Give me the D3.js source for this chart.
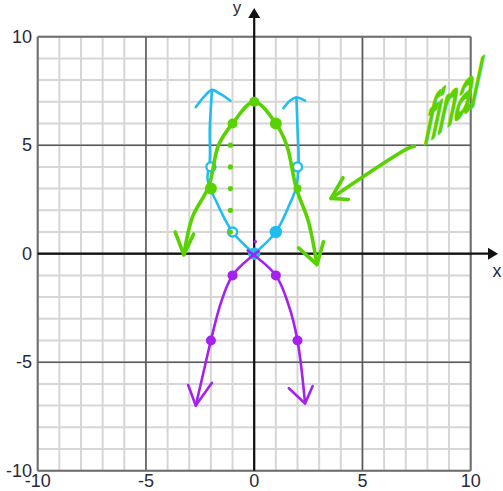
<!DOCTYPE html>
<html lang="en">
  <head>
    <meta charset="UTF-8" />
    <title>Parabola transformations</title>
    <style>
      body {
        margin: 0;
        background: #fff;
      }
      svg text {
        font-family: "Liberation Sans", Arial, sans-serif;
      }
    </style>
  </head>
  <body>
    <svg width="503" height="491" id="chart"></svg>

    <script src="https://d3js.org/d3.v7.min.js"></script>
    <script>
      // tick labels
      var ticks = [-10, -5, 0, 5, 10];
      var gridLines = d3.range(-10, 11);

      // blue: y = x^2 (hand drawn)
      var blueLeft = [[0, 0], [-1, 1], [-1.7, 2.3], [-2.15, 3.4], [-2.05, 4.3], [-2.05, 5.8], [-1.95, 7.5]];
      var blueRight = [[0, 0], [1, 1], [1.6, 2.2], [1.95, 3.1], [2.05, 4.2], [2.0, 5.8], [1.95, 7.2]];
      var blueArrowLeft = [[-2.7, 6.75], [-2.3, 7.25], [-1.95, 7.55], [-1.55, 7.35], [-1.1, 7.05]];
      var blueArrowRight = [[1.35, 6.7], [1.65, 7.05], [1.95, 7.2], [2.35, 7.05]];
      var bluePoints = [
        { x: 0, y: 0, open: false },
        { x: -1, y: 1, open: true },
        { x: -2, y: 4, open: true },
        { x: 1, y: 1, open: false },
        { x: 2, y: 4, open: true },
      ];

      // purple: y = -x^2
      var purpleLeft = [[0.2, 0.12], [-1, -1], [-1.55, -2.3], [-2, -4], [-2.35, -5.5], [-2.7, -7]];
      var purpleRight = [[-0.3, 0.15], [1, -1], [1.6, -2.4], [2, -4], [2.35, -6.9]];
      var purpleArrowLeft = [[-3.05, -6.05], [-2.7, -7], [-1.95, -5.95]];
      var purpleArrowRight = [[1.6, -6.2], [2.35, -6.9], [2.7, -6.1]];
      var purplePoints = [[-1, -1], [-2, -4], [1, -1], [2, -4]];

      // green: y = -x^2 + 7 (final)
      var greenCurve = [[-3.25, -0.05], [-2.85, 1.7], [-2.1, 3.1], [-1.65, 5], [-1, 6], [0, 7], [1, 6], [1.5, 5], [1.95, 3], [2.5, 1.5], [2.9, -0.5]];
      var greenArrowLeft = [[-3.65, 1.0], [-3.25, -0.05], [-2.8, 0.9]];
      var greenArrowRight = [[2.05, 0.27], [2.9, -0.5], [3.2, 0.55]];
      var greenPoints = [
        { x: 0, y: 7, r: 5 },
        { x: -1, y: 6, r: 5 },
        { x: 1, y: 6, r: 6 },
        { x: -2, y: 3, r: 6 },
        { x: 2, y: 3, r: 4 },
      ];
      var greenDots = [5, 4, 3, 2, 1];
      var noteArrow = [[7.4, 4.95], [7.1, 4.85], [3.55, 2.55]];
      var noteArrowHead = [[4.1, 3.5], [3.55, 2.55], [4.35, 2.5]];

      var blue = "#1fbdf0",
        purple = "#a521f0",
        green = "#58d200";

      var svg = d3.select("#chart");
      var x = d3.scaleLinear().domain([-10, 10]).range([37.7, 470.7]);
      var y = d3.scaleLinear().domain([-10, 10]).range([470.7, 36.7]);

      // grid, minor first then major on top
      var grid = svg.append("g");
      grid
        .selectAll("line.vx")
        .data(gridLines)
        .join("line")
        .attr("x1", (d) => x(d))
        .attr("x2", (d) => x(d))
        .attr("y1", y(10))
        .attr("y2", y(-10))
        .attr("stroke", "#d6d6d6")
        .attr("stroke-width", 2);
      grid
        .selectAll("line.hy")
        .data(gridLines)
        .join("line")
        .attr("y1", (d) => y(d))
        .attr("y2", (d) => y(d))
        .attr("x1", x(-10))
        .attr("x2", x(10))
        .attr("stroke", "#d6d6d6")
        .attr("stroke-width", 2);
      grid
        .selectAll("line.maj")
        .data(ticks)
        .join("line")
        .attr("x1", (d) => x(d))
        .attr("x2", (d) => x(d))
        .attr("y1", y(10))
        .attr("y2", y(-10))
        .attr("stroke", (d) => (Math.abs(d) == 10 ? "#6e6e6e" : "#5a5a5a"))
        .attr("stroke-width", (d) => (Math.abs(d) == 10 ? 2 : 1.6));
      grid
        .selectAll("line.majh")
        .data(ticks)
        .join("line")
        .attr("y1", (d) => y(d))
        .attr("y2", (d) => y(d))
        .attr("x1", x(-10))
        .attr("x2", x(10))
        .attr("stroke", (d) => (Math.abs(d) == 10 ? "#6e6e6e" : "#5a5a5a"))
        .attr("stroke-width", (d) => (Math.abs(d) == 10 ? 2 : 1.6));

      // axes with arrows
      svg.append("line")
        .attr("x1", x(0)).attr("x2", x(0))
        .attr("y1", y(-10)).attr("y2", 14)
        .attr("stroke", "#111").attr("stroke-width", 2.2);
      svg.append("line")
        .attr("x1", x(-10)).attr("x2", 492)
        .attr("y1", y(0)).attr("y2", y(0))
        .attr("stroke", "#111").attr("stroke-width", 2.2);
      svg.append("path")
        .attr("d", "M" + x(0) + ",8 l-6,10 h12 z")
        .attr("fill", "#111");
      svg.append("path")
        .attr("d", "M498," + y(0) + " l-10,-6 v12 z")
        .attr("fill", "#111");

      // tick labels
      svg.append("g")
        .selectAll("text")
        .data(ticks)
        .join("text")
        .attr("x", 32)
        .attr("y", (d) => y(d) + 6)
        .attr("text-anchor", "end")
        .attr("font-size", 18)
        .attr("fill", "#2a2a3a")
        .text((d) => d);
      svg.append("g")
        .selectAll("text")
        .data(ticks)
        .join("text")
        .attr("x", (d) => x(d))
        .attr("y", 487)
        .attr("text-anchor", "middle")
        .attr("font-size", 18)
        .attr("fill", "#2a2a3a")
        .text((d) => d);
      svg.append("text").attr("x", 237).attr("y", 13).attr("text-anchor", "middle")
        .attr("font-size", 17).attr("fill", "#2a2a3a").text("y");
      svg.append("text").attr("x", 497).attr("y", 277).attr("text-anchor", "middle")
        .attr("font-size", 18).attr("fill", "#2a2a3a").text("x");

      var smooth = d3.line().x((d) => x(d[0])).y((d) => y(d[1])).curve(d3.curveCatmullRom.alpha(0.5));
      var straight = d3.line().x((d) => x(d[0])).y((d) => y(d[1]));

      function stroke(data, color, width, line) {
        svg.append("path")
          .attr("d", (line || smooth)(data))
          .attr("fill", "none")
          .attr("stroke", color)
          .attr("stroke-width", width)
          .attr("stroke-linecap", "round")
          .attr("stroke-linejoin", "round");
      }

      // blue
      stroke(blueLeft, blue, 2.6);
      stroke(blueRight, blue, 2.6);
      stroke(blueArrowLeft, blue, 2.6);
      stroke(blueArrowRight, blue, 2.6);
      svg.append("g")
        .selectAll("circle")
        .data(bluePoints)
        .join("circle")
        .attr("cx", (d) => x(d.x))
        .attr("cy", (d) => y(d.y))
        .attr("r", (d) => (d.open ? 4.5 : 5))
        .attr("fill", (d) => (d.open ? "#fff" : blue))
        .attr("stroke", blue)
        .attr("stroke-width", 2.4);

      // purple
      stroke(purpleLeft, purple, 2.6);
      stroke(purpleRight, purple, 2.6);
      stroke(purpleArrowLeft, purple, 2.6, straight);
      stroke(purpleArrowRight, purple, 2.6, straight);
      svg.append("g")
        .selectAll("circle")
        .data(purplePoints)
        .join("circle")
        .attr("cx", (d) => x(d[0]))
        .attr("cy", (d) => y(d[1]))
        .attr("r", 5)
        .attr("fill", purple);
      svg.append("circle").attr("cx", x(0.05)).attr("cy", y(0.55)).attr("r", 1.8).attr("fill", purple);

      // green
      svg.append("g")
        .selectAll("circle")
        .data(greenDots)
        .join("circle")
        .attr("cx", x(-1.1))
        .attr("cy", (d) => y(d))
        .attr("r", 2.6)
        .attr("fill", green);
      stroke(greenCurve, green, 3.6);
      stroke(greenArrowLeft, green, 3.6, straight);
      stroke(greenArrowRight, green, 3.6, straight);
      svg.append("g")
        .selectAll("circle")
        .data(greenPoints)
        .join("circle")
        .attr("cx", (d) => x(d.x))
        .attr("cy", (d) => y(d.y))
        .attr("r", (d) => d.r)
        .attr("fill", green);

      // note
      stroke(noteArrow, green, 3.6);
      stroke(noteArrowHead, green, 3.6, straight);
      svg.append("text")
        .attr("transform", "translate(" + x(7.75) + "," + y(4.95) + ") rotate(-38) skewX(-50)")
        .attr("font-size", 45)
        .attr("font-family", "DejaVu Sans")
        .attr("textLength", 68)
        .attr("lengthAdjust", "spacingAndGlyphs")
        .attr("fill", green)
        .attr("stroke", green)
        .attr("stroke-width", 2.6)
        .attr("stroke-linejoin", "round")
        .text("final");
    </script>
  </body>
</html>
